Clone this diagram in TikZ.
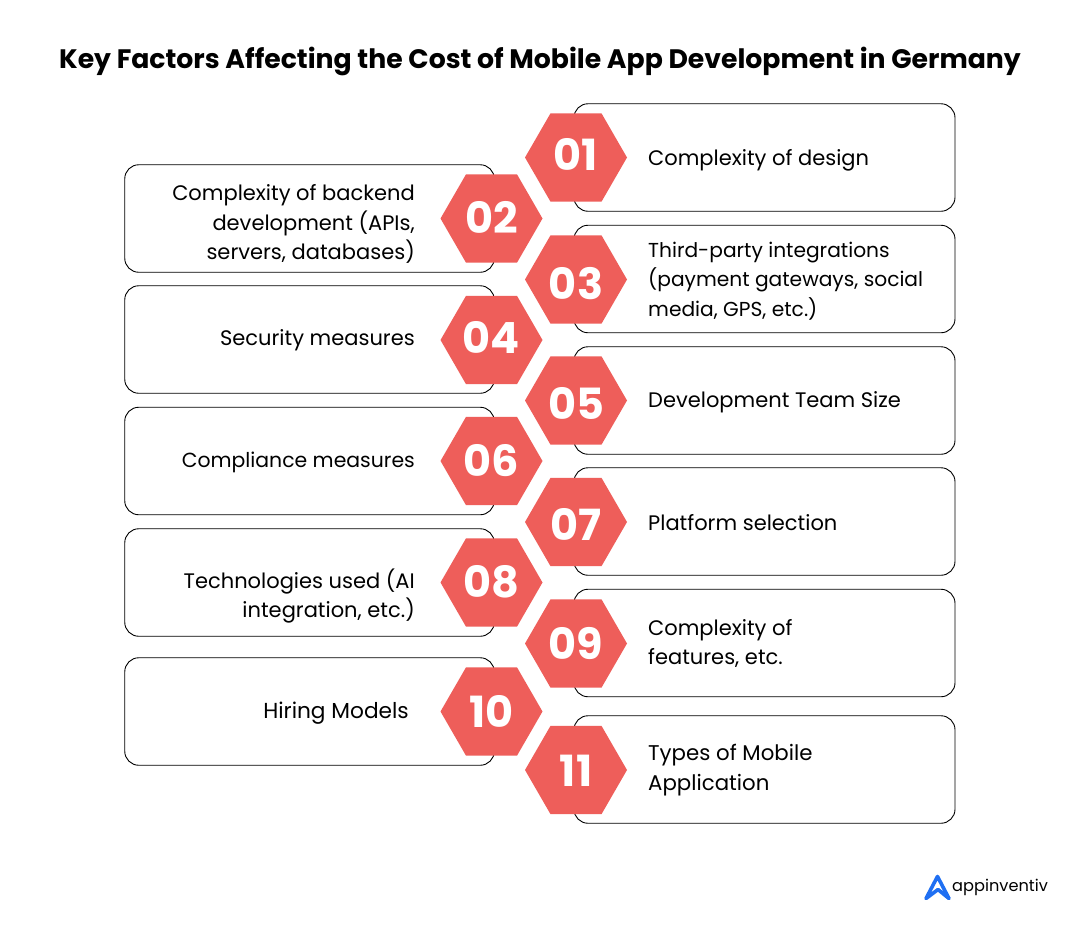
\documentclass[tikz,border=0pt]{standalone}
\usepackage{fontspec}
\setmainfont{Poppins}
\usetikzlibrary{shapes.geometric}
\definecolor{hexred}{HTML}{EE5E5A}
\definecolor{logoblue}{HTML}{1F6FF2}
\tikzset{
	itembox/.style={draw=black,line width=0.9pt,rounded corners=14pt,fill=white,inner sep=0pt,minimum height=107.5pt},
	rightbox/.style={itembox,minimum width=381pt},
	leftbox/.style={itembox,minimum width=369.5pt},
	hexnum/.style={regular polygon,regular polygon sides=6,minimum size=102pt,inner sep=0pt,outer sep=0pt,fill=hexred,text=white,font=\fontsize{43}{43}\selectfont\bfseries},
	righttext/.style={anchor=west,align=left,inner sep=0pt,font=\fontsize{21}{29.3}\selectfont},
	lefttext/.style={anchor=east,align=right,inner sep=0pt,font=\fontsize{21}{29.3}\selectfont}
}
\begin{document}
\begin{tikzpicture}[x=1pt,y=-1pt]
	\useasboundingbox (0,0) rectangle (1080,948);
	\node (title) at (540,61) {\fontsize{26.7}{32}\selectfont\bfseries Key Factors Affecting the Cost of Mobile App Development in Germany};
	% boxes
	\node[rightbox] (box01) at (764.5,157.5) {};
	\node[leftbox] (box02) at (309.5,218.5) {};
	\node[rightbox] (box03) at (764.5,279) {};
	\node[leftbox] (box04) at (309.5,339.5) {};
	\node[rightbox] (box05) at (764.5,400.5) {};
	\node[leftbox] (box06) at (309.5,461) {};
	\node[rightbox] (box07) at (764.5,521.5) {};
	\node[leftbox] (box08) at (309.5,582.5) {};
	\node[rightbox] (box09) at (764.5,643) {};
	\node[leftbox] (box10) at (309.5,711.5) {};
	\node[rightbox] (box11) at (764.5,769.5) {};
	% hexagons
	\foreach \num/\px/\py/\up in {01/576/157.5/2,02/491.5/218.5/0,03/576/279.5/-4.5,04/491.5/340/2,05/576/400.5/-3.5,06/491.5/461/0,07/576/522/-3,08/491.5/582.5/0,09/576/643.5/-1,10/491.5/711.5/-1,11/576/770/-1}
		\node[hexnum] (hex\num) at (\px,\py) {\raisebox{\up pt}[30pt][0pt]{\num}};
	% labels
	\node[righttext] (text01) at (648,160) {Complexity of design};
	\node[lefttext] (text02) at (415,224) {Complexity of backend\\development (APIs,\\servers, databases)};
	\node[righttext,font=\fontsize{20.2}{29.5}\selectfont] (text03) at (648,281) {Third-party integrations\\(payment gateways, social\\media, GPS, etc.)};
	\node[lefttext] (text04) at (415,340) {Security measures};
	\node[righttext] (text05) at (648,402.5) {Development Team Size};
	\node[lefttext,font=\fontsize{20.4}{29}\selectfont] (text06) at (415,462) {Compliance measures};
	\node[righttext] (text07) at (648,522.5) {Platform selection};
	\node[lefttext] (text08) at (415,596) {Technologies used (AI\\integration, etc.)};
	\node[righttext] (text09) at (648,643.5) {Complexity of\\features, etc.};
	\node[lefttext,font=\fontsize{21.7}{29}\selectfont] (text10) at (409,713.5) {Hiring Models};
	\node[righttext,font=\fontsize{21.3}{29.3}\selectfont] (text11) at (648,770) {Types of Mobile\\Application};
	% logo
	\draw[logoblue,line width=3.6pt,line join=round,line cap=round] (926,898.5) -- (937.5,876.5) -- (949,898.5) -- (938,889.5) -- cycle;
	\node[anchor=west,inner sep=0pt] (logo) at (952,887) {\fontsize{16.2}{16.2}\selectfont appinventiv};
\end{tikzpicture}
\end{document}
